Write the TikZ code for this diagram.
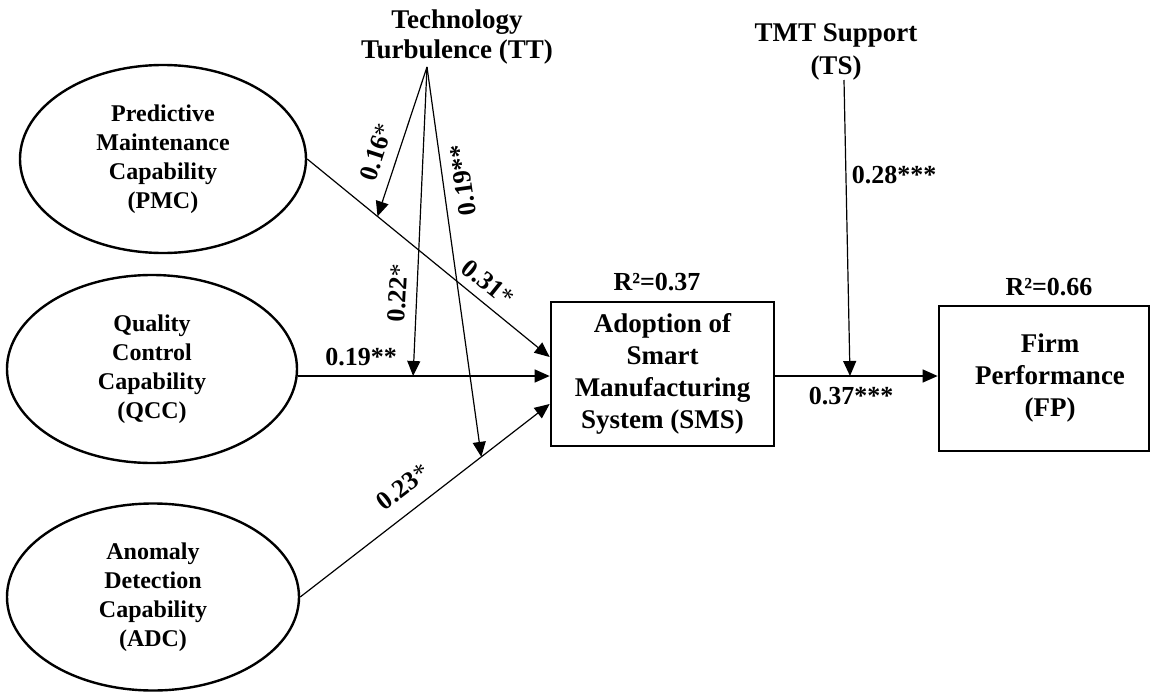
\documentclass[tikz,border=0pt]{standalone}
\usepackage{fontspec}
\setmainfont{Liberation Serif}
\usetikzlibrary{shapes.geometric,arrows.meta,calc}
\begin{document}
\begin{tikzpicture}[x=1pt,y=-1pt,
  lat/.style={ellipse,draw,line width=2.4pt,inner sep=0pt,align=center,font=\fontsize{24}{29}\selectfont\bfseries},
  box/.style={rectangle,draw,line width=2.7pt,inner sep=0pt,align=center,font=\fontsize{27}{32}\selectfont\bfseries},
  lbl/.style={font=\fontsize{26}{30}\selectfont\bfseries,inner sep=0pt},
  head/.style={align=center,inner sep=0pt},
  conn/.style={line width=1.2pt,-{Triangle[length=15pt,width=13pt]}}
]
\useasboundingbox (0,0) rectangle (1151,693);

\node[lat,minimum width=286pt,minimum height=188pt] (pmc) at (163,159) {Predictive\\Maintenance\\Capability\\(PMC)};
\node[lat,minimum width=290pt,minimum height=188pt] (qcc) at (152,369) {Quality\\Control\\Capability\\(QCC)};
\node[lat,minimum width=292pt,minimum height=187pt] (adc) at (153,597) {Anomaly\\Detection\\Capability\\(ADC)};
\node[box,minimum width=223pt,minimum height=144pt] (sms) at (662.5,374) {Adoption of\\Smart\\Manufacturing\\System (SMS)};
\node[box,minimum width=210pt,minimum height=145pt] (fp) at (1044,378.5) {\hspace*{12pt}Firm\\\hspace*{12pt}Performance\\\hspace*{12pt}(FP)};

\node[head,font=\fontsize{27}{30}\selectfont\bfseries] (tt) at (457,37) {Technology\\Turbulence (TT)};
\node[head,font=\fontsize{27}{33}\selectfont\bfseries] (ts) at (836,52) {TMT Support\\(TS)};

\coordinate (ttp) at (427,67);
\coordinate (tsp) at (844,80);

\coordinate (s1) at ([yshift=17pt]sms.west);
\coordinate (s2) at ([yshift=-2pt]sms.west);
\coordinate (s3) at ([yshift=-30pt]sms.west);
\coordinate (f1) at ([yshift=-2pt]sms.east);

\draw[conn] (pmc.east) -- coordinate[pos=0.29] (m1) (s1);
\draw[conn] (s2 -| qcc.east) -- coordinate[pos=0.457] (m2) (s2);
\draw[conn] (adc.east) -- coordinate[pos=0.726] (m3) (s3);
\draw[conn] (f1) -- coordinate[pos=0.46] (m4) (f1 -| fp.west);

\draw[conn] (ttp) -- (m1);
\draw[conn] (ttp) -- (m2);
\draw[conn] (ttp) -- (m3);
\draw[conn] (tsp) -- (m4);

\node[lbl,rotate=72] (l16) at (376,152) {0.16\mdseries*};
\node[lbl,rotate=87] (l22) at (398,293) {0.22\mdseries*};
\node[lbl,rotate=98] (l19b) at (463,180) {0.19**};
\node[lbl,rotate=-38.9] (l31) at (488,283) {0.31\mdseries*};
\node[lbl,rotate=37.4] (l23) at (403,487) {0.23\mdseries*};
\node[lbl] (l19) at (361,357) {0.19**};
\node[lbl] (l28) at (894,175) {0.28***};
\node[lbl] (l37) at (851,396) {0.37***};
\node[lbl] (r1) at (657,282) {R²=0.37};
\node[lbl] (r2) at (1049,287) {R²=0.66};
\end{tikzpicture}
\end{document}
